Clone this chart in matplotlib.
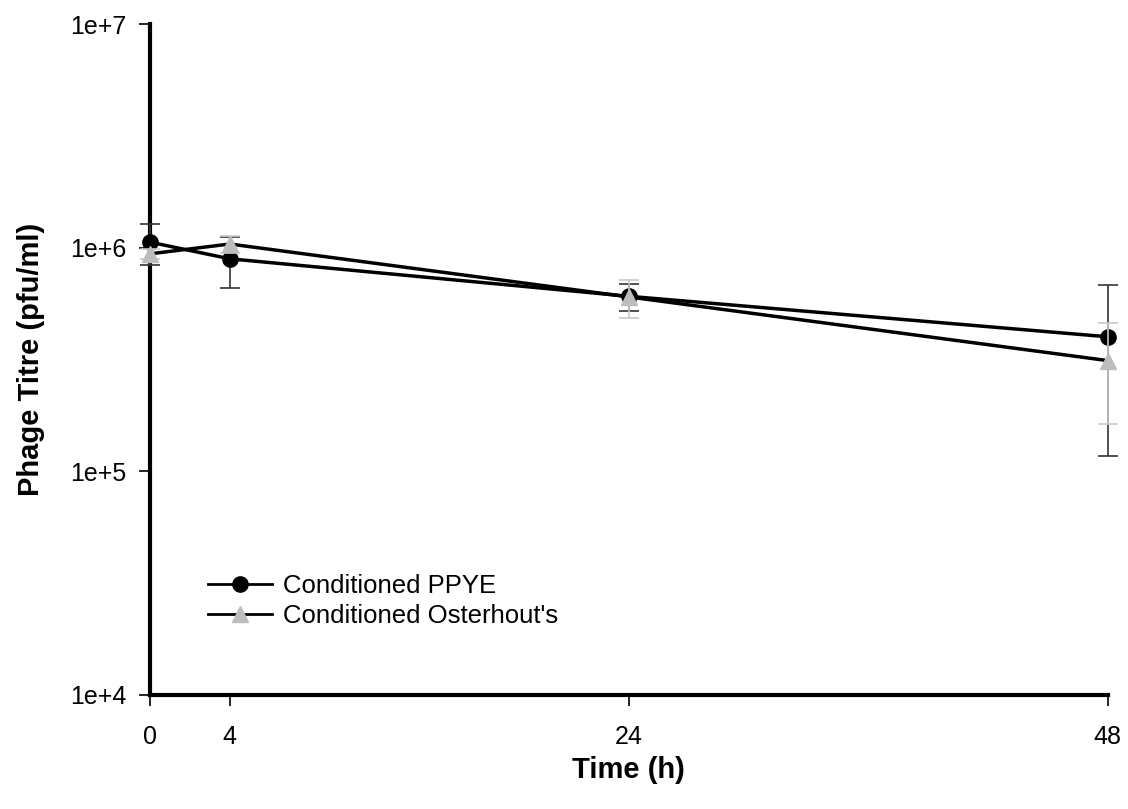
import matplotlib
matplotlib.use('Agg')
import matplotlib.pyplot as plt
from matplotlib.ticker import FixedLocator, FixedFormatter
from matplotlib.lines import Line2D

plt.rcParams['font.family'] = ['Liberation Sans', 'DejaVu Sans']

time_h = [0, 4, 24, 48]
ppye = [1.06e6, 8.93e5, 6.07e5, 4.0e5]
ppye_err = [2.2e5, 2.3e5, 0.83e5, 2.83e5]
osterhout = [9.4e5, 1.04e6, 6.03e5, 3.13e5]
osterhout_err = [0.5e5, 0.9e5, 1.16e5, 1.5e5]

y_ticks = [1e4, 1e5, 1e6, 1e7]
y_labels = ['1e+4', '1e+5', '1e+6', '1e+7']

fig = plt.figure(figsize=(11.28, 8.09), dpi=100)
ax = fig.add_axes([0.133, 0.141, 0.849, 0.829])

ax.errorbar(time_h, ppye, yerr=ppye_err, color='black', ecolor='#333333',
            elinewidth=1.2, capsize=7, capthick=1.2, linewidth=2.5,
            marker='o', markersize=11, clip_on=False, zorder=3)
ax.errorbar(time_h, osterhout, yerr=osterhout_err, color='black', ecolor='#c8c8c8',
            elinewidth=1.2, capsize=7, capthick=1.2, linewidth=2.5,
            marker='^', markersize=12, markerfacecolor='#bdbdbd', markeredgecolor='#bdbdbd',
            clip_on=False, zorder=4)

ax.set_yscale('log')
ax.set_ylim(1e4, 1e7)
ax.set_xlim(0, 48)
ax.yaxis.set_major_locator(FixedLocator(y_ticks))
ax.yaxis.set_major_formatter(FixedFormatter(y_labels))
ax.yaxis.set_minor_locator(FixedLocator([]))
ax.set_xticks(time_h)

for side in ['top', 'right']:
    ax.spines[side].set_visible(False)
for side in ['left', 'bottom']:
    ax.spines[side].set_linewidth(3)
ax.tick_params(axis='both', direction='out', length=8, width=1.2, labelsize=18)
ax.tick_params(axis='y', pad=9)
ax.tick_params(axis='x', pad=14)

ax.set_ylabel('Phage Titre (pfu/ml)', fontsize=21, fontweight='bold', labelpad=18)
ax.set_xlabel('Time (h)', fontsize=21, fontweight='bold', labelpad=5)

handles = [
    Line2D([], [], color='black', linewidth=2, marker='o', markersize=11),
    Line2D([], [], color='black', linewidth=2, marker='^', markersize=12,
           markerfacecolor='#bdbdbd', markeredgecolor='#bdbdbd'),
]
ax.legend(handles, ['Conditioned PPYE', "Conditioned Osterhout's"],
          loc='center left', bbox_to_anchor=(0.036, 0.14), frameon=False,
          fontsize=18.5, handlelength=2.5, labelspacing=0.2, handletextpad=0.45)

fig.savefig('out.png', dpi=100)
